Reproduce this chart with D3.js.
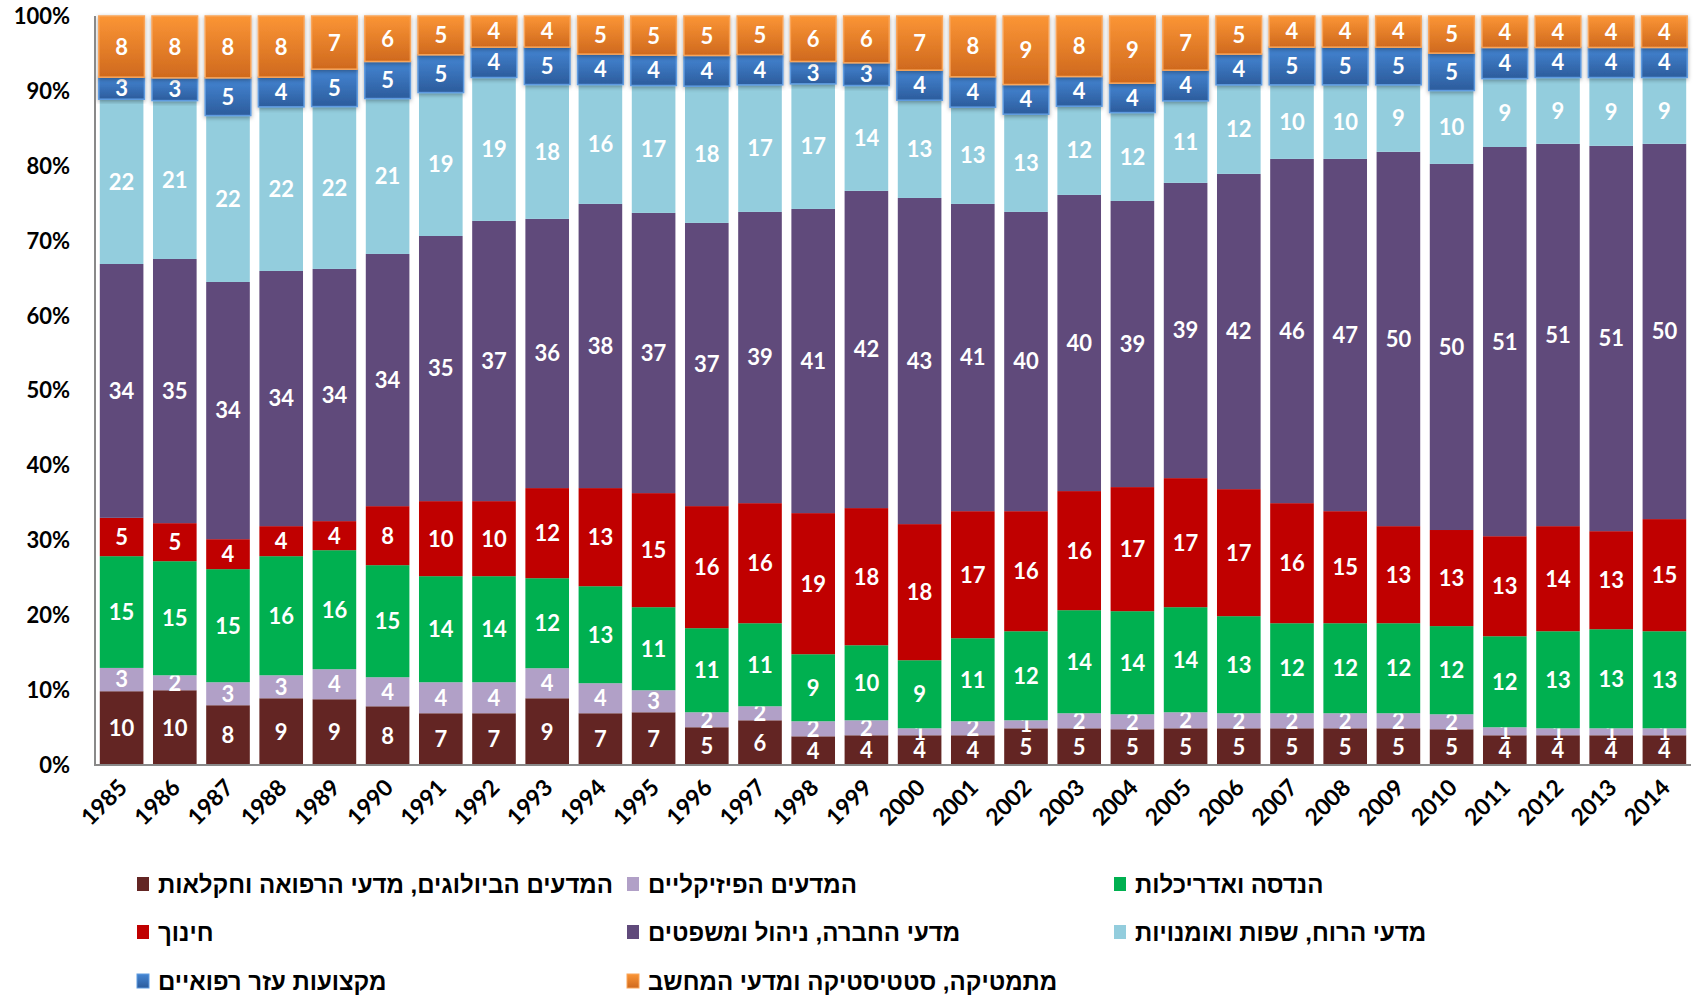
<!DOCTYPE html>
<meta charset="utf-8">
<style>
body { margin: 0; background: #fff; }
svg { display: block; }
.axis-label { font-family: Lato, "Open Sans", sans-serif; font-weight: 700; font-size: 22px; fill: #000; }
.year-label { font-family: Lato, "Open Sans", sans-serif; font-weight: 700; font-size: 23px; fill: #000; }
.bar-label { font-family: Lato, "Open Sans", sans-serif; font-weight: 700; font-size: 22px; fill: #fff; }
.legend-label { font-family: "Liberation Sans", Arial, "DejaVu Sans", sans-serif; font-weight: 700; font-size: 24px; fill: #000; }
</style>
<svg width="1696" height="995"></svg>
<script src="https://d3js.org/d3.v7.min.js"></script>
<script>

var years = ["1985","1986","1987","1988","1989","1990","1991","1992","1993","1994",
  "1995","1996","1997","1998","1999","2000","2001","2002","2003","2004",
  "2005","2006","2007","2008","2009","2010","2011","2012","2013","2014"];

var seriesNames = [
  "המדעים הביולוגים, מדעי הרפואה וחקלאות",
  "המדעים הפיזיקליים",
  "הנדסה ואדריכלות",
  "חינוך",
  "מדעי החברה, ניהול ומשפטים",
  "מדעי הרוח, שפות ואומנויות",
  "מקצועות עזר רפואיים",
  "מתמטיקה, סטטיסטיקה ומדעי המחשב"
];

// percent of students per field, bottom to top of each bar
var biology = [9.85,9.98,7.98,8.91,8.78,7.84,6.91,6.91,8.91,6.91,
  7.04,4.94,5.97,3.83,3.97,3.93,3.97,4.9,4.9,4.87,
  4.9,4.9,4.9,4.9,4.9,4.87,3.89,3.97,3.97,3.97];
var physical = [3.11,2.0,3.07,3.07,4.01,3.88,4.14,4.14,4.01,4.01,
  2.94,1.96,1.87,2.01,2.0,0.92,1.87,1.07,2.01,2.04,
  2.14,2.01,2.01,2.01,2.01,2.04,1.05,0.93,0.93,0.93];
var engineering = [14.92,15.23,15.1,15.9,15.89,14.96,14.16,14.16,12.02,12.95,
  11.09,11.0,11.09,8.95,10.02,9.0,11.09,11.89,13.76,14.04,
  14.03,12.96,12.02,12.02,12.02,12.01,11.91,12.96,13.23,12.96];
var education = [5.12,5.08,4.0,4.01,3.88,7.88,10.02,10.02,12.03,13.1,
  15.23,15.97,16.03,18.84,18.31,17.99,16.96,16.03,15.9,16.9,
  17.23,16.96,16.03,14.96,12.96,13.09,13.09,14.03,13.09,14.97];
var social = [33.89,35.27,34.34,34.07,33.67,33.67,35.4,37.41,35.94,37.94,
  37.41,37.05,38.88,40.61,42.35,43.11,41.02,39.95,39.54,38.97,
  39.42,42.09,45.96,47.03,49.97,49.87,50.93,51.04,51.44,50.1];
var humanities = [22.0,21.15,22.22,21.91,21.68,20.75,19.15,19.15,17.94,15.94,
  17.01,17.89,16.97,16.7,14.07,12.92,12.92,13.05,11.85,12.04,
  10.95,11.89,9.89,9.89,8.95,10.0,8.95,8.86,9.13,8.86];
var paramedical = [2.94,3.03,5.03,3.96,4.99,4.95,5.04,4.05,4.99,4.06,
  4.05,4.02,4.05,2.99,3.03,3.97,4.05,3.96,3.96,4.0,
  4.1,4.1,5.03,5.03,5.03,5.09,4.07,4.01,4.01,4.01];
var mathCs = [8.17,8.26,8.26,8.17,7.1,6.07,5.18,4.16,4.16,5.09,
  5.23,5.16,5.14,6.07,6.25,7.16,8.12,9.15,8.08,9.15,
  7.23,5.09,4.16,4.16,4.16,5.06,4.12,4.2,4.2,4.2];

var yTicks = [0, 0.1, 0.2, 0.3, 0.4, 0.5, 0.6, 0.7, 0.8, 0.9, 1];

var seriesValues = [biology, physical, engineering, education, social, humanities, paramedical, mathCs];
var colors = ["#632523", "#b1a0c7", "#00b050", "#c00000", "#604a7b", "#93cddd", "#4a7ec4", "#f79646"];
var bevel = [null, null, null, null, null, null,
  {top: "#4485d3", bottom: "#2c5c9c", edge: "#5f9be0"},
  {top: "#fb9535", bottom: "#cf691e", edge: "#f9a55a"}];

var rows = years.map(function(y, i) {
  var r = {year: y};
  seriesNames.forEach(function(n, k) { r[n] = seriesValues[k][i]; });
  return r;
});

var svg = d3.select("svg");

var margin = {top: 16, left: 95, right: 5},
    plotBottom = 765;

var x = d3.scaleBand()
    .domain(years)
    .range([margin.left, 1691])
    .paddingInner(0.18)
    .paddingOuter(0.09);

var y = d3.scaleLinear()
    .domain([0, 1])
    .range([plotBottom, margin.top]);

var stack = d3.stack()
    .keys(seriesNames)
    .offset(d3.stackOffsetExpand);

var layers = stack(rows);

// gradients and shadow for the bevelled top series
var defs = svg.append("defs");
bevel.forEach(function(b, k) {
  if (!b) return;
  var g = defs.append("linearGradient")
      .attr("id", "grad" + k)
      .attr("x1", 0).attr("y1", 0).attr("x2", 0).attr("y2", 1);
  g.append("stop").attr("offset", "0%").attr("stop-color", b.top);
  g.append("stop").attr("offset", "100%").attr("stop-color", b.bottom);
});
var shadow = defs.append("filter")
    .attr("id", "shadow")
    .attr("x", "-20%").attr("y", "-20%").attr("width", "140%").attr("height", "140%");
shadow.append("feDropShadow")
    .attr("dx", 0).attr("dy", 1.5)
    .attr("stdDeviation", 2)
    .attr("flood-color", "#000")
    .attr("flood-opacity", 0.35);

// bars
var layerG = svg.selectAll("g.layer")
  .data(layers)
  .enter().append("g")
    .attr("class", "layer");

layerG.each(function(layer, k) {
  var b = bevel[k];
  var sel = d3.select(this).selectAll("rect")
    .data(layer)
    .enter().append("rect")
      .attr("x", function(d) { return x(d.data.year) - (b ? 1 : 0); })
      .attr("width", x.bandwidth() + (b ? 2 : 0))
      .attr("y", function(d) { return y(d[1]); })
      .attr("height", function(d) { return y(d[0]) - y(d[1]); });
  if (b) {
    sel.style("fill", "url(#grad" + k + ")")
      .style("stroke", b.edge)
      .style("stroke-width", 1.5)
      .attr("filter", "url(#shadow)");
  } else {
    sel.style("fill", colors[k]);
  }
});

// value labels
layerG.each(function(layer) {
  var key = layer.key;
  d3.select(this).selectAll("text")
    .data(layer)
    .enter().append("text")
      .attr("class", "bar-label")
      .attr("text-anchor", "middle")
      .attr("dy", "0.36em")
      .attr("x", function(d) { return x(d.data.year) + x.bandwidth() / 2; })
      .attr("y", function(d) { return y((d[0] + d[1]) / 2); })
      .text(function(d) { return Math.round(d.data[key]); });
});

// axes
svg.append("line")
    .attr("x1", margin.left).attr("x2", margin.left)
    .attr("y1", margin.top).attr("y2", plotBottom)
    .style("stroke", "#898989").style("stroke-width", 2);
svg.append("line")
    .attr("x1", margin.left - 1).attr("x2", 1691)
    .attr("y1", plotBottom).attr("y2", plotBottom)
    .style("stroke", "#898989").style("stroke-width", 2);

svg.append("g")
  .selectAll("text")
  .data(yTicks)
  .enter().append("text")
    .attr("class", "axis-label")
    .attr("text-anchor", "end")
    .attr("x", 70)
    .attr("y", function(d) { return y(d); })
    .attr("dy", "0.36em")
    .text(d3.format(".0%"));

svg.append("g")
  .selectAll("text")
  .data(years)
  .enter().append("text")
    .attr("class", "year-label")
    .attr("text-anchor", "end")
    .attr("transform", function(d) {
      return "translate(" + (x(d) + x.bandwidth() / 2 + 7) + "," + (plotBottom + 24) + ") rotate(-45)";
    })
    .text(function(d) { return d; });

// legend, three columns
var legendX = [137, 627, 1114],
    legendY = [884, 932, 981];

var legend = svg.append("g")
  .selectAll("g")
  .data(seriesNames)
  .enter().append("g")
    .attr("transform", function(d, i) {
      return "translate(" + legendX[i % 3] + "," + legendY[Math.floor(i / 3)] + ")";
    });

legend.append("rect")
    .attr("x", 0).attr("y", -7)
    .attr("width", 12).attr("height", 14)
    .style("fill", function(d, i) { return bevel[i] ? "url(#grad" + i + ")" : colors[i]; })
    .style("stroke", function(d, i) { return bevel[i] ? bevel[i].edge : "none"; })
    .style("stroke-width", 1);

legend.append("text")
    .attr("class", "legend-label")
    .attr("x", 21)
    .attr("dy", "0.36em")
    .text(function(d) { return d; });

</script>
